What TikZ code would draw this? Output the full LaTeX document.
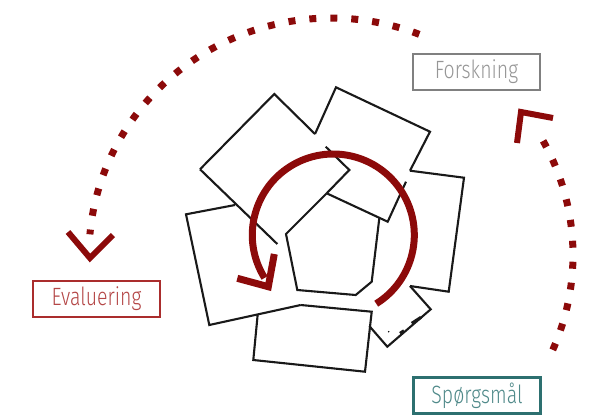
\documentclass[tikz,border=0pt]{standalone}
\usepackage{fontspec}
\IfFontExistsTF{Fira Sans Light}{\newfontfamily\lblfont{Fira Sans Light}[FakeStretch=0.78]}{\newfontfamily\lblfont{Fira Sans}[FakeStretch=0.78]}
\definecolor{cycred}{RGB}{140,10,10}
\definecolor{grayb}{RGB}{128,128,128}
\definecolor{grayt}{RGB}{150,150,150}
\definecolor{redb}{RGB}{170,45,45}
\definecolor{redt}{RGB}{180,70,70}
\definecolor{tealb}{RGB}{45,112,112}
\definecolor{tealt}{RGB}{80,138,138}
\begin{document}
\begin{tikzpicture}[x=1pt,y=-1pt,
  edge/.style={draw=black!90,line width=2.1pt,line join=miter},
  lblbox/.style={draw,line width=2.5pt,minimum width=127pt,minimum height=36pt,inner sep=0pt,font=\lblfont\fontsize{25}{25}\selectfont,fill=white},
  dotarc/.style={draw=cycred,line width=7pt,dash pattern=on 7pt off 14pt},
  chev/.style={draw=cycred,line width=6pt,line join=miter,line cap=butt}]
\useasboundingbox (0,0) rectangle (603,416);
% shapes
\draw[edge] (200,169.3) -- (274.3,94) -- (315,134);
\draw[edge] (200,169.3) -- (277.3,244);
\draw[edge] (325.7,146.7) -- (349.3,170) -- (326.7,193.3);
\draw[edge] (315,134) -- (336,87.3) -- (430,131.7) -- (410,170.7);
\draw[edge] (406,181.7) -- (387.7,221.7) -- (326.7,193.3);
\draw[edge] (410,170.7) -- (464,177.7) -- (448.7,291.7) -- (410,286);
\draw[edge] (410,286) -- (430.7,309.3) -- (387.3,346.7) -- (369.3,326);
\draw[draw=black!90,line width=3pt] (411.7,323.3) -- (421,317.3);
\draw[draw=black!90,line width=3pt] (400,333.3) -- (404,330.7);
\fill[black] (388.7,331.7) circle (0.8pt);
\draw[edge] (257.7,314.3) -- (253.3,360) -- (365,371.7) -- (371.7,311.7) -- (300.7,305);
\draw[edge] (235,205) -- (186,214.3) -- (209.3,325) -- (300.7,305);
\draw[edge] (326.7,193.3) -- (286,234) -- (297.3,290) -- (355.7,295) -- (371.7,281.7) -- (379.3,218.3);
% central cycle arrow
\draw[cycred,line width=7pt] (333.3,235) ++(58:81) arc[start angle=58,end angle=-212,radius=81];
\coordinate (ctip) at (268.3,286.7);
\draw[chev,line width=7pt] (237.3,278.3) -- (ctip) -- (274.3,254);
% dotted outer arcs
\coordinate (oc) at (331,255);
\draw[dotarc] (oc) ++(-68.6:242 and 237) arc[start angle=-68.6,end angle=-175,x radius=242,y radius=237];
\coordinate (ltip) at (90,258);
\draw[chev] (68,232) -- (ltip) -- (113,235);
\draw[dotarc] (oc) ++(23.6:242 and 237) arc[start angle=23.6,end angle=-31,x radius=242,y radius=237];
\coordinate (rtip) at (521,112);
\draw[chev] (517,143) -- (rtip) -- (553,118);
% labels
\node[lblbox,draw=grayb,text=grayt] (forsk) at (476.5,72) {Forskning};
\node[lblbox,draw=redb,text=redt] (eval) at (96.5,299) {Evaluering};
\node[lblbox,draw=tealb,text=tealt] (sporg) at (477,395.5) {Spørgsmål};
\end{tikzpicture}
\end{document}
